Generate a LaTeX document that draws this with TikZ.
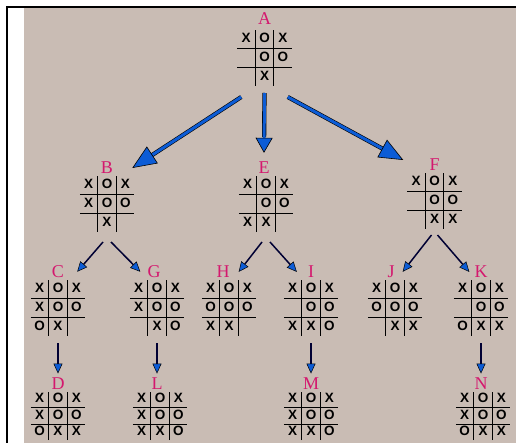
\documentclass[tikz,border=0pt]{standalone}
\usepackage{fontspec}
\usepackage{array}
\setsansfont{Liberation Sans}
\newfontfamily\lblfont{Liberation Serif}
\usetikzlibrary{arrows.meta,positioning}

\definecolor{paper}{RGB}{201,188,180}
\definecolor{lettermag}{RGB}{212,24,110}
\definecolor{arrowblue}{RGB}{12,92,214}
\setlength\arrayrulewidth{0.8pt}
\setlength\tabcolsep{3.75pt}

% one tic-tac-toe position, row by row
\newcommand\ttt[9]{%
  \begin{tabular}{w{c}{10pt}|w{c}{10pt}|w{c}{10pt}}
    #1&#2&#3\\\hline
    #4&#5&#6\\\hline
    #7&#8&#9
  \end{tabular}}

\tikzset{
  board/.style={inner sep=0pt, font=\fontsize{13.5}{18}\selectfont\sffamily\bfseries},
  lowboard/.style={board, font=\fontsize{13.5}{15.5}\selectfont\sffamily\bfseries},
  tag/.style={inner sep=0pt, text=lettermag, font=\fontsize{18}{18}\selectfont\lblfont},
  bigarrow/.style={draw=arrowblue, line width=3pt,
    -{Triangle[length=24pt,width=20pt,color=black,fill=arrowblue,line width=0.6pt]},
    preaction={draw=black, line width=4.2pt, -, shorten >=16pt}},
  smallarrow/.style={draw=black!80!blue, line width=1.5pt,
    -{Triangle[length=10pt,width=9pt,color=black,fill=arrowblue,line width=0.5pt]}},
}

\begin{document}
\begin{tikzpicture}[x=1pt,y=-1pt]
  \useasboundingbox (0,0) rectangle (516,443);
  \fill[paper] (24,8) rectangle (516,443);
  \draw[line width=2pt] (516,7) -- (7,7) -- (7,443);

  % root
  \node[board] (A) at (264.5,58) {\ttt{X}{O}{X}{}{O}{O}{}{X}{}};
  \node[tag, above=5pt of A] (lA) {A};

  % second level
  \node[board] (B) at (107,204) {\ttt{X}{O}{X}{X}{O}{O}{}{X}{}};
  \node[board] (E) at (266,204) {\ttt{X}{O}{X}{}{O}{O}{X}{X}{}};
  \node[board] (F) at (434.5,201) {\ttt{X}{O}{X}{}{O}{O}{}{X}{X}};
  \node[tag, above=2pt of B] (lB) {B};
  \node[tag, above=2pt of E, xshift=-2pt] (lE) {E};
  \node[tag, above=2pt of F] (lF) {F};

  % third level
  \node[board] (C) at (58,308) {\ttt{X}{O}{X}{X}{O}{O}{O}{X}{}};
  \node[board] (G) at (157,308) {\ttt{X}{O}{X}{X}{O}{O}{}{X}{O}};
  \node[board] (H) at (229,308) {\ttt{X}{O}{X}{O}{O}{O}{X}{X}{}};
  \node[board] (I) at (311,308) {\ttt{X}{O}{X}{}{O}{O}{X}{X}{O}};
  \node[board] (J) at (395,308) {\ttt{X}{O}{X}{O}{O}{O}{}{X}{X}};
  \node[board] (K) at (481,308) {\ttt{X}{O}{X}{}{O}{O}{O}{X}{X}};
  \node[tag, above=2pt of C] (lC) {C};
  \node[tag, above=2pt of G, xshift=-3pt] (lG) {G};
  \node[tag, above=2pt of H, xshift=-6pt] (lH) {H};
  \node[tag, above=2pt of I] (lI) {I};
  \node[tag, above=2pt of J, xshift=-4pt] (lJ) {J};
  \node[tag, above=2pt of K] (lK) {K};

  % leaves
  \node[lowboard] (D) at (58,416) {\ttt{X}{O}{X}{X}{O}{O}{O}{X}{X}};
  \node[lowboard] (L) at (160,416) {\ttt{X}{O}{X}{X}{O}{O}{X}{X}{O}};
  \node[lowboard] (M) at (311,416) {\ttt{X}{O}{X}{X}{O}{O}{X}{X}{O}};
  \node[lowboard] (N) at (483,416) {\ttt{X}{O}{X}{X}{O}{O}{O}{X}{X}};
  \node[tag, above=2pt of D] (lD) {D};
  \node[tag, above=2pt of L, xshift=-3pt] (lL) {L};
  \node[tag, above=2pt of M] (lM) {M};
  \node[tag, above=2pt of N, xshift=-2pt] (lN) {N};

  % moves out of A
  \draw[bigarrow] ([xshift=4pt,yshift=-11pt]A.south west) -- ([xshift=-2pt,yshift=8pt]B.north east);
  \draw[bigarrow, -{Triangle[length=15pt,width=17pt,color=black,fill=arrowblue,line width=0.6pt]}]
    ([yshift=-7pt]A.south) -- ([yshift=9pt]lE.north);
  \draw[bigarrow] ([xshift=-4pt,yshift=-11pt]A.south east) -- ([xshift=-4pt,yshift=13pt]F.north west);

  % replies
  \draw[smallarrow] ([xshift=-4pt,yshift=-10pt]B.south) -- ([xshift=13pt]lC.east);
  \draw[smallarrow] ([xshift=4pt,yshift=-10pt]B.south) -- ([xshift=-7pt]lG.west);
  \draw[smallarrow] ([xshift=-4pt,yshift=-10pt]E.south) -- ([xshift=9pt]lH.east);
  \draw[smallarrow] ([xshift=4pt,yshift=-10pt]E.south) -- ([xshift=-11pt]lI.west);
  \draw[smallarrow] ([xshift=-3pt,yshift=-6pt]F.south) -- ([xshift=8pt]lJ.east);
  \draw[smallarrow] ([xshift=3pt,yshift=-6pt]F.south) -- ([xshift=-5pt]lK.west);
  \draw[smallarrow] ([yshift=-7pt]C.south) -- ([yshift=4pt]lD.north);
  \draw[smallarrow] ([yshift=-7pt]G.south) -- ([yshift=4pt]lL.north);
  \draw[smallarrow] ([yshift=-7pt]I.south) -- ([yshift=4pt]lM.north);
  \draw[smallarrow] ([yshift=-7pt]K.south) -- ([yshift=4pt]lN.north);
\end{tikzpicture}
\end{document}
